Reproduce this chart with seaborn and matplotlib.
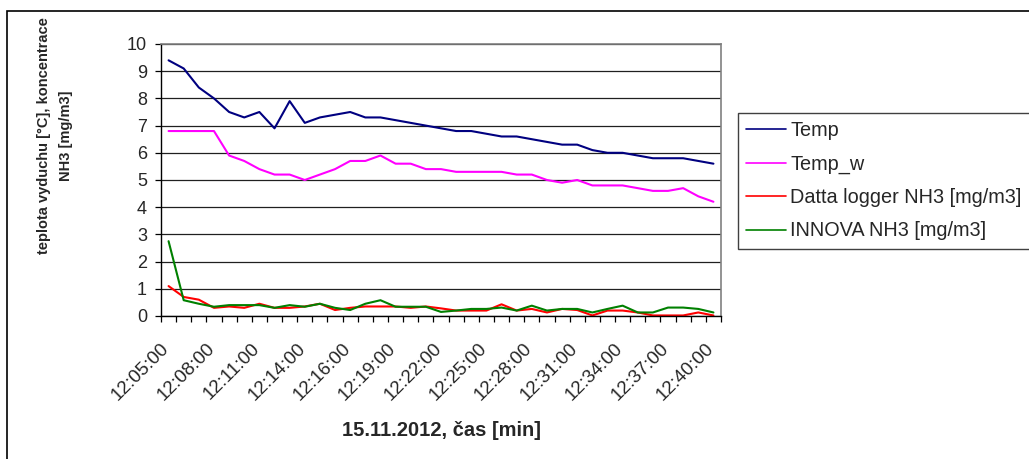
import matplotlib
matplotlib.use("Agg")
import matplotlib.pyplot as plt
from matplotlib.patches import Rectangle
from matplotlib.ticker import FixedLocator, NullFormatter
import matplotlib.transforms as mtransforms
import numpy as np
import pandas as pd
import seaborn as sns

# Measurement times (one reading per category)
times = [
    "12:05:00", "12:06:00", "12:07:00", "12:08:00", "12:09:00", "12:10:00",
    "12:11:00", "12:12:00", "12:13:00", "12:14:00", "12:15:00", "12:15:30",
    "12:16:00", "12:17:00", "12:18:00", "12:19:00", "12:20:00", "12:21:00",
    "12:22:00", "12:23:00", "12:24:00", "12:25:00", "12:26:00", "12:27:00",
    "12:28:00", "12:29:00", "12:30:00", "12:31:00", "12:32:00", "12:33:00",
    "12:34:00", "12:35:00", "12:36:00", "12:37:00", "12:38:00", "12:39:00",
    "12:40:00",
]

temp = [9.4, 9.1, 8.4, 8.0, 7.5, 7.3, 7.5, 6.9, 7.9, 7.1, 7.3, 7.4, 7.5, 7.3,
        7.3, 7.2, 7.1, 7.0, 6.9, 6.8, 6.8, 6.7, 6.6, 6.6, 6.5, 6.4, 6.3, 6.3,
        6.1, 6.0, 6.0, 5.9, 5.8, 5.8, 5.8, 5.7, 5.6]

temp_w = [6.8, 6.8, 6.8, 6.8, 5.9, 5.7, 5.4, 5.2, 5.2, 5.0, 5.2, 5.4, 5.7, 5.7,
          5.9, 5.6, 5.6, 5.4, 5.4, 5.3, 5.3, 5.3, 5.3, 5.2, 5.2, 5.0, 4.9, 5.0,
          4.8, 4.8, 4.8, 4.7, 4.6, 4.6, 4.7, 4.4, 4.2]

logger_nh3 = [1.1, 0.7, 0.6, 0.3, 0.35, 0.3, 0.45, 0.3, 0.3, 0.35, 0.45, 0.22,
              0.3, 0.35, 0.35, 0.35, 0.3, 0.35, 0.28, 0.2, 0.2, 0.2, 0.43, 0.2,
              0.26, 0.13, 0.26, 0.22, 0.02, 0.2, 0.2, 0.13, 0.02, 0.02, 0.02,
              0.13, 0.02]

innova_nh3 = [2.75, 0.58, 0.45, 0.34, 0.4, 0.4, 0.4, 0.3, 0.4, 0.34, 0.45, 0.3,
              0.22, 0.45, 0.58, 0.34, 0.34, 0.34, 0.15, 0.2, 0.26, 0.26, 0.31,
              0.2, 0.38, 0.2, 0.26, 0.26, 0.13, 0.26, 0.38, 0.13, 0.13, 0.31,
              0.31, 0.26, 0.13]

series_names = ["Temp", "Temp_w", "Datta logger NH3 [mg/m3]", "INNOVA NH3 [mg/m3]"]
series_colors = ["#000080", "#FF00FF", "#FF0000", "#008000"]
y_ticks = list(range(0, 11))
label_step = 3

sns.set_style("white")
plt.rcParams["font.family"] = ["Liberation Sans", "DejaVu Sans"]

idx = np.arange(len(times))
df = pd.concat(
    [pd.DataFrame({"idx": idx, "value": vals, "series": name})
     for name, vals in zip(series_names, [temp, temp_w, logger_nh3, innova_nh3])],
    ignore_index=True,
)

W, H = 1029, 459
fig = plt.figure(figsize=(W / 100, H / 100), dpi=100)
ax = fig.add_axes([161 / W, 1 - 316 / H, (721 - 161) / W, (316 - 44) / H])

sns.lineplot(data=df, x="idx", y="value", hue="series", hue_order=series_names,
             palette=series_colors, linewidth=1.5, estimator=None, sort=False,
             legend=False, ax=ax)

n = len(times)
ax.set_xlim(-0.5, n - 0.5)
ax.set_ylim(0, 10)
ax.set_xlabel("")
ax.set_ylabel("")

# horizontal gridlines
ax.set_yticks(y_ticks)
ax.yaxis.grid(True, color="#202020", linewidth=0.9)
ax.xaxis.grid(False)
ax.set_axisbelow(True)
ax.tick_params(axis="y", direction="out", length=4.5, width=0.9, pad=5.5,
               labelsize=13, left=True, color="black")

# category boundary ticks, labels on every third category
ax.xaxis.set_major_locator(FixedLocator(np.arange(-0.5, n, 1.0)))
ax.xaxis.set_major_formatter(NullFormatter())
ax.tick_params(axis="x", which="major", direction="out", length=4.5, width=0.9,
               bottom=True, color="black")
label_pos = idx[::label_step]
ax.set_xticks(label_pos, minor=True)
ax.set_xticklabels([times[i] for i in label_pos], minor=True)
ax.tick_params(axis="x", which="minor", length=0, pad=17, labelsize=13.5)
offset = mtransforms.ScaledTranslation(-8 / 100, 0, fig.dpi_scale_trans)
for lab in ax.get_xticklabels(minor=True):
    lab.set_rotation(45)
    lab.set_ha("right")
    lab.set_va("top")
    lab.set_rotation_mode("anchor")
    lab.set_transform(lab.get_transform() + offset)

for side in ["left", "bottom"]:
    ax.spines[side].set_color("black")
    ax.spines[side].set_linewidth(1.0)
for side in ["top", "right"]:
    ax.spines[side].set_color("#808080")
    ax.spines[side].set_linewidth(1.2)

# axis titles
fig.text(441 / W, 1 - 431 / H, "15.11.2012, čas [min]", ha="center", va="center",
         fontsize=14.5, fontweight="bold")
fig.text(55 / W, 1 - 136 / H, "teplota vyduchu [°C], koncentrace\nNH3 [mg/m3]",
         rotation=90, ha="center", va="center", multialignment="center",
         fontsize=10.5, fontweight="bold", linespacing=1.75)

# legend
handles = ax.get_lines()[:len(series_names)]
leg = fig.legend(handles, series_names, loc="upper left",
                 bbox_to_anchor=(738 / W, 1 - 113 / H), borderaxespad=0,
                 fontsize=14.3, frameon=True, fancybox=False, framealpha=1,
                 edgecolor="#404040", handlelength=2.0, handletextpad=0.2,
                 labelspacing=0.72, borderpad=0.42)
leg.get_frame().set_linewidth(1.0)
for line in leg.get_lines():
    line.set_linewidth(1.2)

# outer chart border
fig.patches.append(Rectangle((7 / W, -0.1), 1.2, 1.1 - 11 / H,
                             transform=fig.transFigure, fill=False,
                             edgecolor="black", linewidth=1.2))

fig.savefig("out.png", dpi=100)
